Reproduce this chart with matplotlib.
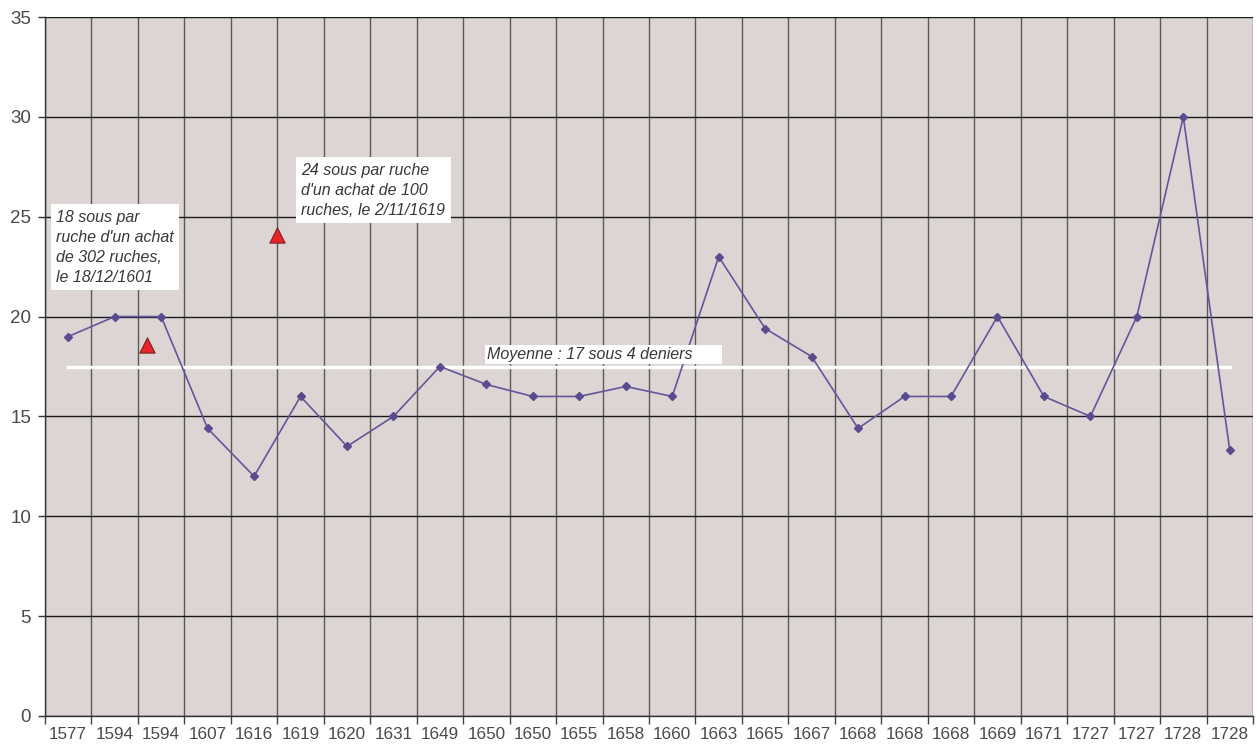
import matplotlib
matplotlib.use("Agg")
import matplotlib.pyplot as plt
import numpy as np

years = ["1577", "1594", "1594", "1607", "1616", "1619", "1620", "1631", "1649",
         "1650", "1650", "1655", "1658", "1660", "1663", "1665", "1667", "1668",
         "1668", "1668", "1669", "1671", "1727", "1727", "1728", "1728"]
prices = [19, 20, 20, 14.4, 12, 16, 13.5, 15, 17.5, 16.6, 16, 16, 16.5, 16,
          23, 19.4, 18, 14.4, 16, 16, 20, 16, 15, 20, 30, 13.3]
special_pos = [1.7, 4.5]
special_prices = [18.6, 24.1]
mean_value = 17.5
mean_label = "Moyenne : 17 sous 4 deniers"
note1 = "18 sous par\nruche d'un achat\nde 302 ruches,\nle 18/12/1601"
note2 = "24 sous par ruche\nd'un achat de 100\nruches, le 2/11/1619"

plt.rcParams['font.family'] = ['Liberation Sans', 'DejaVu Sans']

fig = plt.figure(figsize=(12.57, 7.47), dpi=100)
ax = fig.add_axes([45/1257, 1 - 716/747, 1208/1257, (716-17)/747])
bg = '#DCD5D4'
ax.set_facecolor(bg)

n = len(years)
x = np.arange(n)
ax.set_xlim(-0.5, n - 0.5)
ax.set_ylim(0, 35)

# grid
ax.set_yticks(np.arange(0, 36, 5))
ax.set_xticks(x)
ax.set_xticklabels(years)
ax.set_xticks(np.arange(-0.5, n, 1), minor=True)
ax.grid(True, which='minor', axis='x', color='#3a3a3a', lw=1.0, alpha=0.8)
ax.grid(True, which='major', axis='y', color='#1a1a1a', lw=1.0)
ax.tick_params(axis='x', which='major', length=0, pad=8, labelsize=12.3, labelcolor='#4a4a4a')
ax.tick_params(axis='x', which='minor', length=6, color='#444444', width=1)
ax.tick_params(axis='y', which='major', length=5, color='#333333', width=1, pad=5,
               labelsize=13.5, labelcolor='#4a4a4a')
ax.set_axisbelow(True)
for s in ['top', 'right']:
    ax.spines[s].set_visible(False)
for s in ['left', 'bottom']:
    ax.spines[s].set_color('#333333')
    ax.spines[s].set_linewidth(1.0)

# mean line
ax.plot([x[0], x[-1]], [mean_value, mean_value], color='white', lw=2.5, zorder=3)

# main series
ax.plot(x, prices, color='#65559a', lw=1.2, marker='D', markersize=4.5,
        markerfacecolor='#5a4a8e', markeredgecolor='#5a4a8e', zorder=4)

# special points
ax.scatter(special_pos, special_prices, marker='^', s=120, color='#e8242a',
           edgecolors='#7a2020', linewidths=0.8, zorder=5)

box = dict(facecolor='white', edgecolor='none', boxstyle='square,pad=0.35')
ax.text(-0.26, 25.35, note1, ha='left', va='top', fontsize=11.5, style='italic',
        color='#383838', linespacing=1.42, bbox=box, zorder=6)
ax.text(5.02, 27.7, note2, ha='left', va='top', fontsize=11.5, style='italic',
        color='#383838', linespacing=1.42, bbox=box, zorder=6)
ax.text(9.02, 18.1, mean_label + "      ", ha='left', va='center', fontsize=11.5,
        style='italic', color='#383838', bbox=dict(facecolor='white', edgecolor='none',
        boxstyle='square,pad=0.15'), zorder=6)

fig.savefig('out.png', dpi=100, facecolor='white')
